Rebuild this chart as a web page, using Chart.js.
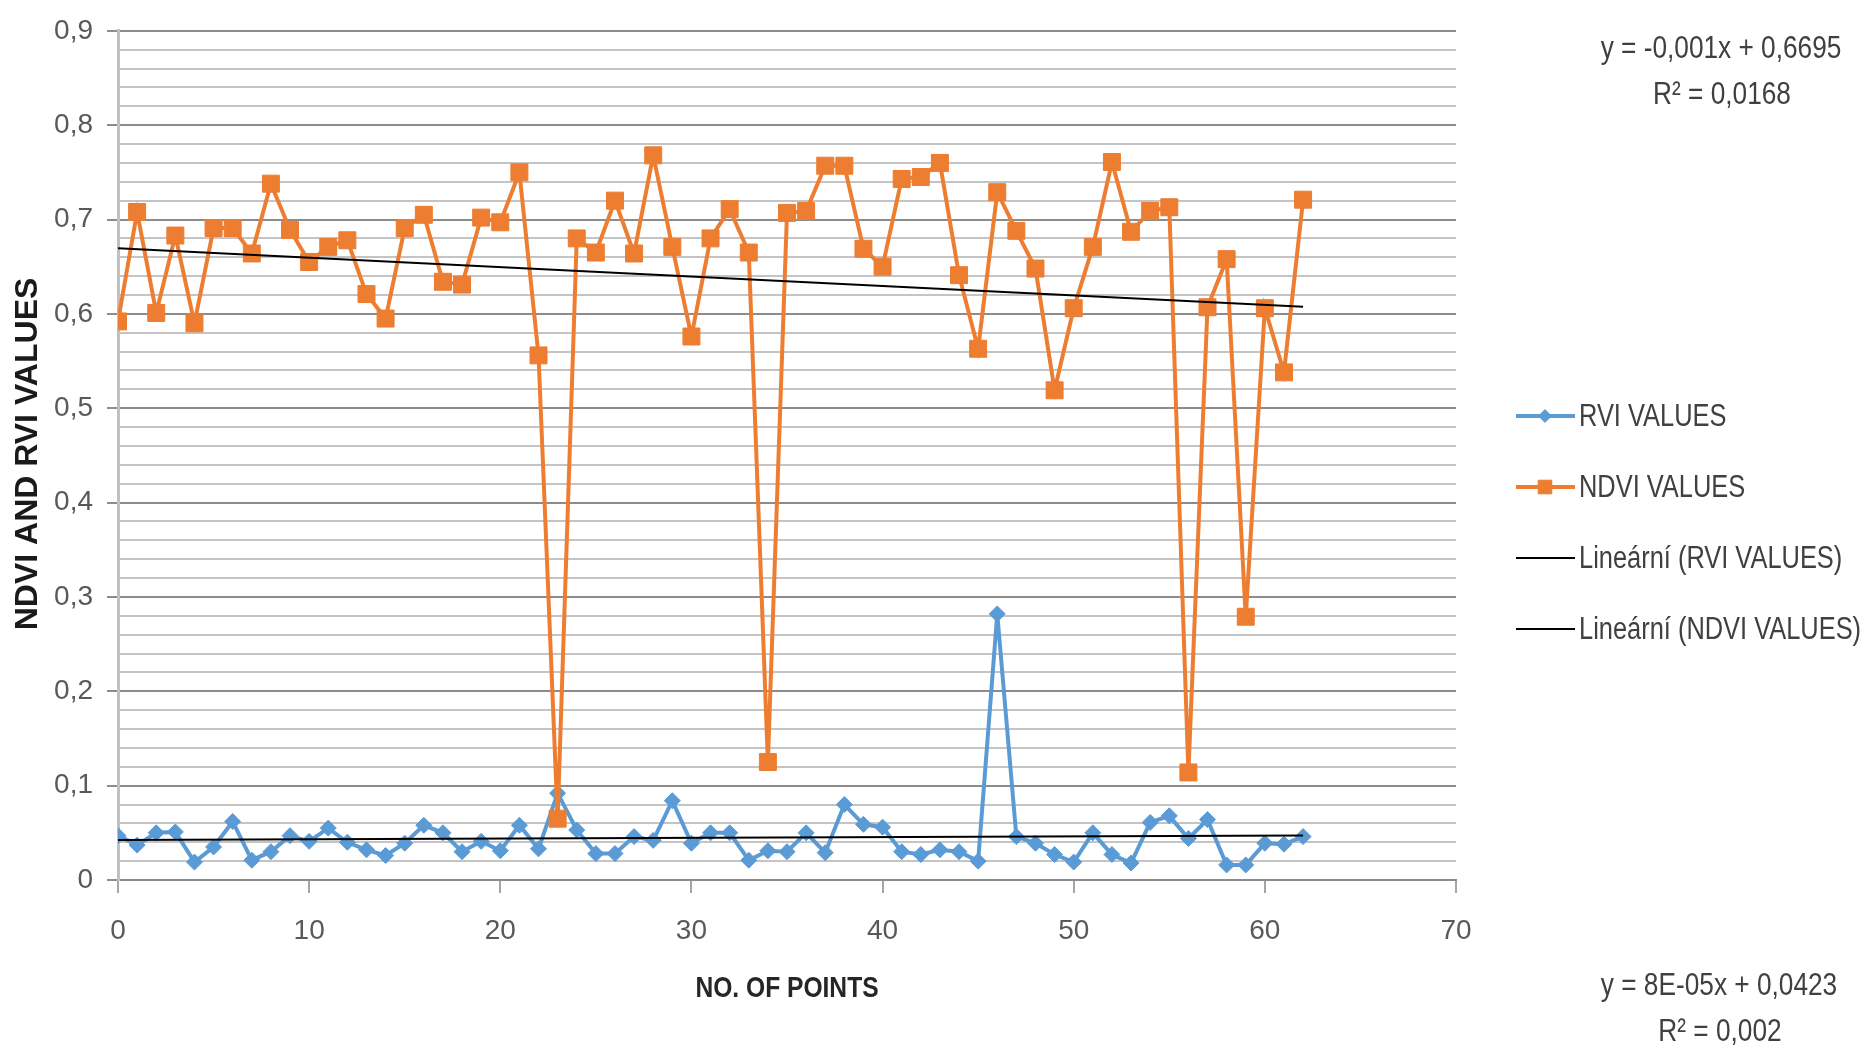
<!DOCTYPE html>
<html>
<head>
<meta charset="utf-8">
<script src="https://cdn.jsdelivr.net/npm/chart.js@4.4.1/dist/chart.umd.min.js"></script>
<style>
  html, body { margin: 0; padding: 0; background: #ffffff; }
  #wrap { position: relative; width: 1864px; height: 1050px; }
</style>
</head>
<body>
<div id="wrap"><canvas id="chart" width="1864" height="1050"></canvas></div>
<script>
// Point numbers along the survey line
const pointNumbers = [
  0, 1, 2, 3, 4, 5, 6, 7, 8, 9, 10, 11, 12, 13, 14, 15, 16, 17, 18, 19, 20,
  21, 22, 23, 24, 25, 26, 27, 28, 29, 30, 31, 32, 33, 34, 35, 36, 37, 38, 39, 40,
  41, 42, 43, 44, 45, 46, 47, 48, 49, 50, 51, 52, 53, 54, 55, 56, 57, 58, 59, 60,
  61, 62
];

// RVI value measured at each point
const rviValues = [
  0.047, 0.037, 0.050, 0.051, 0.019, 0.035, 0.062, 0.021, 0.030, 0.047, 0.041,
  0.055, 0.040, 0.032, 0.026, 0.039, 0.058, 0.050, 0.030, 0.041, 0.031,
  0.058, 0.033, 0.092, 0.053, 0.028, 0.028, 0.046, 0.042, 0.084, 0.039,
  0.050, 0.050, 0.021, 0.031, 0.030, 0.050, 0.029, 0.080, 0.059, 0.056,
  0.030, 0.027, 0.032, 0.030, 0.020, 0.282, 0.046, 0.039, 0.027, 0.019,
  0.050, 0.027, 0.018, 0.061, 0.068, 0.044, 0.064, 0.016, 0.016, 0.039,
  0.038, 0.046
];

// NDVI value measured at each point
const ndviValues = [
  0.592, 0.708, 0.601, 0.683, 0.590, 0.691, 0.691, 0.664, 0.738, 0.689, 0.655,
  0.671, 0.678, 0.621, 0.595, 0.691, 0.705, 0.634, 0.631, 0.702, 0.697,
  0.750, 0.556, 0.065, 0.680, 0.665, 0.720, 0.664, 0.768, 0.671, 0.576,
  0.680, 0.711, 0.665, 0.125, 0.707, 0.709, 0.757, 0.757, 0.669, 0.650,
  0.743, 0.745, 0.760, 0.641, 0.563, 0.729, 0.688, 0.648, 0.519, 0.606,
  0.671, 0.761, 0.687, 0.709, 0.713, 0.114, 0.607, 0.658, 0.279, 0.606,
  0.538, 0.721
];

// Linear trend coefficients [slope, intercept] and R²
const rviTrend = [0.00008, 0.0423];
const rviR2 = '0,002';
const ndviTrend = [-0.001, 0.6695];
const ndviR2 = '0,0168';

// Axis ticks
const xTicks = [0, 10, 20, 30, 40, 50, 60, 70];
const yMajorTicks = [0, 0.1, 0.2, 0.3, 0.4, 0.5, 0.6, 0.7, 0.8, 0.9];

const seriesLabels = ['RVI VALUES', 'NDVI VALUES', 'Lineární (RVI VALUES)', 'Lineární (NDVI VALUES)'];

const BLUE = '#5b9bd5';
const ORANGE = '#ed7d31';
const SANS = '"Liberation Sans", Arial, sans-serif';
const CONDENSE = 0.82; // horizontal squeeze for the narrow annotation text

const toPoints = vals => pointNumbers.map((n, i) => ({ x: n, y: vals[i] }));
const trendPoints = c => {
  const x0 = pointNumbers[0], x1 = pointNumbers[pointNumbers.length - 1];
  return [{ x: x0, y: c[0] * x0 + c[1] }, { x: x1, y: c[0] * x1 + c[1] }];
};
const fmt = v => (Math.abs(v) < 1e-9 ? '0' : v.toFixed(1).replace('.', ','));
const isMajor = v => yMajorTicks.some(t => Math.abs(t - v) < 1e-6);
const eqText = c => {
  const s = c[0];
  let slope;
  if (Math.abs(s) < 0.001) {
    const e = Math.floor(Math.log10(Math.abs(s)));
    const m = Math.round(s / Math.pow(10, e));
    slope = m + 'E-' + String(-e).padStart(2, '0');
  } else {
    slope = String(s).replace('.', ',');
  }
  return 'y = ' + slope + 'x + ' + String(c[1]).replace('.', ',');
};

// draw text squeezed horizontally around its anchor
function narrowText(ctx, text, x, y, align) {
  ctx.save();
  ctx.translate(x, y);
  ctx.scale(CONDENSE, 1);
  ctx.textAlign = align;
  ctx.textBaseline = 'middle';
  ctx.fillText(text, 0, 0);
  ctx.restore();
}

// Axis titles, legend and trend equations drawn beside the plot
const sideText = {
  id: 'sideText',
  afterDraw(chart) {
    const ctx = chart.ctx;
    const area = chart.chartArea;
    ctx.save();

    // y axis title
    ctx.fillStyle = '#1a1a1a';
    ctx.font = 'bold 32px ' + SANS;
    ctx.textAlign = 'center';
    ctx.textBaseline = 'middle';
    ctx.translate(28, 454);
    ctx.rotate(-Math.PI / 2);
    ctx.fillText('NDVI AND RVI VALUES', 0, 0);
    ctx.setTransform(1, 0, 0, 1, 0, 0);

    // x axis title
    ctx.fillStyle = '#262626';
    ctx.font = 'bold 30px ' + SANS;
    narrowText(ctx, 'NO. OF POINTS', (area.left + area.right) / 2, 989, 'center');

    // legend
    const rowsY = [416, 487, 558, 629];
    chart.data.datasets.forEach((ds, i) => {
      const y = rowsY[i];
      ctx.strokeStyle = ds.borderColor;
      ctx.lineWidth = ds.borderWidth;
      ctx.beginPath();
      ctx.moveTo(1516, y);
      ctx.lineTo(1575, y);
      ctx.stroke();
      if (ds.pointRadius > 0) {
        ctx.fillStyle = ds.pointBackgroundColor;
        ctx.strokeStyle = ds.pointBorderColor;
        ctx.lineWidth = 1;
        Chart.helpers.drawPoint(ctx, {
          pointStyle: ds.pointStyle, radius: ds.pointRadius * 0.8, rotation: 0, borderWidth: 1
        }, 1545, y);
      }
      ctx.fillStyle = '#404040';
      ctx.font = '31px ' + SANS;
      narrowText(ctx, ds.label, 1579, y + 1, 'left');
    });

    // trend equations
    ctx.fillStyle = '#404040';
    ctx.font = '32px ' + SANS;
    narrowText(ctx, eqText(ndviTrend), 1721, 49, 'center');
    narrowText(ctx, 'R² = ' + ndviR2, 1722, 95, 'center');
    narrowText(ctx, eqText(rviTrend), 1719, 986, 'center');
    narrowText(ctx, 'R² = ' + rviR2, 1720, 1032, 'center');

    ctx.restore();
  }
};

new Chart(document.getElementById('chart'), {
  type: 'line',
  data: {
    datasets: [
      {
        label: seriesLabels[0],
        data: toPoints(rviValues),
        borderColor: BLUE,
        backgroundColor: BLUE,
        borderWidth: 4,
        pointStyle: 'rectRot',
        pointRadius: 8,
        pointBackgroundColor: BLUE,
        pointBorderColor: BLUE,
        pointBorderWidth: 1,
        order: 3
      },
      {
        label: seriesLabels[1],
        data: toPoints(ndviValues),
        borderColor: ORANGE,
        backgroundColor: ORANGE,
        borderWidth: 4,
        pointStyle: 'rect',
        pointRadius: 12,
        pointBackgroundColor: ORANGE,
        pointBorderColor: ORANGE,
        pointBorderWidth: 1,
        order: 2
      },
      {
        label: seriesLabels[2],
        data: trendPoints(rviTrend),
        borderColor: '#000000',
        borderWidth: 2,
        pointRadius: 0,
        order: 1
      },
      {
        label: seriesLabels[3],
        data: trendPoints(ndviTrend),
        borderColor: '#000000',
        borderWidth: 2,
        pointRadius: 0,
        order: 0
      }
    ]
  },
  options: {
    responsive: false,
    animation: false,
    devicePixelRatio: 1,
    layout: { padding: { left: 0, top: 28, right: 408, bottom: 0 } },
    plugins: {
      legend: { display: false },
      tooltip: { enabled: false }
    },
    elements: { line: { tension: 0 } },
    scales: {
      x: {
        type: 'linear',
        min: xTicks[0],
        max: xTicks[xTicks.length - 1],
        afterBuildTicks: s => { s.ticks = xTicks.map(v => ({ value: v })); },
        ticks: {
          color: '#595959',
          font: { family: SANS, size: 28 },
          padding: 21,
          maxRotation: 0,
          autoSkip: false
        },
        grid: {
          drawOnChartArea: false,
          drawTicks: true,
          tickLength: 13,
          tickColor: '#a6a6a6',
          lineWidth: 2
        },
        border: { display: true, color: '#8c8c8c', width: 2 },
        afterFit: s => { s.height = 170; }
      },
      y: {
        type: 'linear',
        min: 0,
        max: 0.9,
        ticks: {
          stepSize: 0.02,
          maxTicksLimit: 100,
          autoSkip: false,
          color: '#595959',
          font: { family: SANS, size: 28 },
          padding: 14,
          callback: v => (isMajor(v) ? fmt(v) : '')
        },
        grid: {
          color: c => (isMajor(c.tick.value) ? '#8c8c8c' : '#c4c4c4'),
          lineWidth: 2,
          tickLength: 11,
          tickColor: c => (isMajor(c.tick.value) ? '#8c8c8c' : 'rgba(0,0,0,0)')
        },
        border: { display: true, color: '#c0c0c0', width: 3 },
        afterFit: s => { s.width = 118; }
      }
    }
  },
  plugins: [sideText]
});
</script>
</body>
</html>
